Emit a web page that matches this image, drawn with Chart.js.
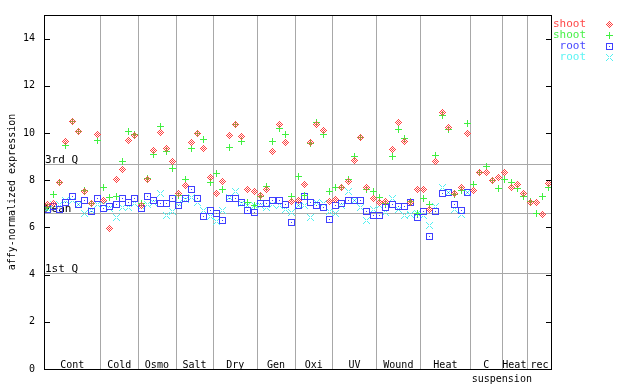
<!DOCTYPE html>
<html>
<head>
<meta charset="utf-8">
<script src="https://cdn.jsdelivr.net/npm/chart.js@4/dist/chart.umd.min.js"></script>
<style>
  html, body { margin: 0; padding: 0; background: #fff; }
</style>
</head>
<body>
<canvas id="chart" width="640" height="384"></canvas>
<script>
// groups along the x axis, and how many samples each one holds
const groups = ['Cont', 'Cold', 'Osmo', 'Salt', 'Dry', 'Gen', 'Oxi', 'UV', 'Wound', 'Heat', 'C', 'Heat', 'rec'];
const groupSizes = [9, 6, 6, 6, 7, 6, 6, 7, 7, 8, 5, 4, 4];
const subLabel = 'suspension';

// expression values per sample (null = no sample)
const shoot1 = [6.95, 7.02, 7.92, 9.66, 10.49, 10.07, 7.53, 7.02, 9.95,
  7.12, 5.97, 8.02, 8.47, 9.69, 9.90,
  6.93, 8.05, 9.27, 10.03, 9.36, 8.79,
  7.44, 7.78, 9.61, 9.97, 9.34, 8.13,
  7.44, 7.96, 9.89, 10.35, 9.86, 7.61, 7.53,
  7.36, 7.61, 9.21, 10.35, 9.61, 7.11,
  7.15, 7.82, 9.61, 10.35, 10.11, 7.11,
  7.19, 7.68, 7.95, 8.83, 9.82, 7.67, 7.23,
  7.05, 7.11, 9.30, 10.45, 9.63, 7.05, 7.62,
  7.62, 6.76, 8.80, 10.87, 10.23, 7.43, 7.71, 9.97,
  7.57, 8.32, 8.33, 7.97, 8.12,
  8.33, 7.67, 7.80, 7.43,
  7.04, 7.04, 6.56, 7.84];
const shoot2 = [6.85, 7.40, 7.92, 9.48, 10.47, 10.07, 7.55, 7.02, 9.68,
  7.67, 7.25, 7.33, 8.79, 10.07, 9.95,
  7.00, 8.09, 9.09, 10.28, 9.21, 8.51,
  7.36, 8.05, 9.34, 9.97, 9.72, 7.89,
  8.29, 7.61, 9.38, 10.35, 9.65, 7.05, 6.94,
  7.33, 7.75, 9.65, 10.21, 9.93, 7.33,
  8.16, 7.36, 9.55, 10.45, 9.93, 7.53,
  7.70, 7.70, 8.05, 9.00, 9.82, 7.62, 7.53,
  7.27, 7.00, 9.00, 10.14, 9.75, 7.10, 6.60,
  7.23, 6.97, 9.04, 10.73, 10.13, 7.40, 7.58, 10.39,
  7.82, 8.32, 8.58, 7.99, 7.63,
  8.05, 7.91, 7.66, 7.33,
  7.11, 6.57, 7.29, 7.67];
const root1 = [6.74, 6.88, 6.74, 7.07, 7.29, 6.95, 7.16, 6.67, 7.21,
  6.81, 6.88, 6.95, 7.23, 7.07, 7.23,
  6.81, 7.29, 7.15, 7.02, 7.02, 7.21,
  6.91, 7.21, 7.59, 7.21, 6.45, 6.73,
  6.60, 6.31, 7.23, 7.23, 7.05, 6.73, 6.65,
  7.02, 7.02, 7.12, 7.16, 6.98, 6.22,
  6.91, 7.29, 7.07, 6.94, 6.86, 6.35,
  6.91, 7.02, 7.13, 7.12, 7.13, 6.66, 6.49,
  6.52, 6.83, 6.99, 6.87, 6.87, 7.07, 6.42,
  6.69, 5.63, 6.69, 7.44, 7.49, 6.98, 6.73, 7.49,
  null, null, null, null, null,
  null, null, null, null,
  null, null, null, null];
const root2 = [6.80, 6.95, 6.95, 7.16, 7.16, 6.95, 6.60, 6.72, 6.95,
  6.95, 6.80, 6.41, 6.84, 6.84, 7.02,
  6.90, 6.98, 7.05, 7.44, 6.52, 6.69,
  7.00, 7.19, 7.25, 7.04, 6.73, 6.45,
  6.24, 6.73, 7.27, 7.53, 7.01, 6.91, 6.91,
  6.94, 6.83, 6.97, 6.91, 6.77, 6.63,
  6.91, 6.94, 6.44, 7.05, 7.02, 6.69,
  6.60, 6.91, 7.53, 7.12, 6.84, 6.31, 6.77,
  6.91, 6.63, 7.21, 6.77, 6.52, 6.55, 6.60,
  6.52, 6.10, 6.87, 7.70, 7.49, 6.77, 6.56, 7.49,
  null, null, null, null, null,
  null, null, null, null,
  null, null, null, null];

const yTicks = [0, 2, 4, 6, 8, 10, 12, 14];
const refNames = ['3rd Q', 'Mean', '1st Q'];
const refValues = [8.67, 6.63, 4.06];

const FONT = '"DejaVu Sans Mono", monospace';
const GRAY = '#a8a8a8';

// small pixel-art markers, 7x7, like the original bitmap plot
function marker(color, test) {
  const c = document.createElement('canvas');
  c.width = 7; c.height = 7;
  const g = c.getContext('2d');
  g.fillStyle = color;
  for (let py = 0; py < 7; py++) {
    for (let px = 0; px < 7; px++) {
      if (test(px - 3, py - 3)) g.fillRect(px, py, 1, 1);
    }
  }
  return c;
}
const diamond = marker('#ff4040', (dx, dy) => {
  const d = Math.abs(dx) + Math.abs(dy);
  return d === 3 || (d < 3 && (dx + dy) % 2 !== 0);
});
const plus = marker('#40f040', (dx, dy) => dx === 0 || dy === 0);
const square = marker('#4040ff', (dx, dy) => Math.max(Math.abs(dx), Math.abs(dy)) === 3 || (dx === 0 && dy === 0));
const cross = marker('#50f0f0', (dx, dy) => Math.abs(dx) === Math.abs(dy) && Math.abs(dx) >= 1);

const toPoints = arr => arr.map((v, i) => ({ x: i, y: v })).filter(p => p.y !== null);

const series = [
  { label: 'shoot', data: shoot1, color: '#ff4848', style: diamond },
  { label: 'shoot', data: shoot2, color: '#48f048', style: plus },
  { label: 'root', data: root1, color: '#4848ff', style: square },
  { label: 'root', data: root2, color: '#5cf4f4', style: cross }
];

// separators, quartile lines, box, group labels and legend
const decor = {
  id: 'decor',
  beforeDatasetsDraw(chart) {
    const { ctx, chartArea: a, scales: { x, y } } = chart;
    ctx.save();
    ctx.strokeStyle = GRAY;
    ctx.lineWidth = 1;
    let start = 0;
    groupSizes.slice(0, -1).forEach(n => {
      start += n;
      const px = Math.round(x.getPixelForValue(start - 0.5)) + 0.5;
      ctx.beginPath(); ctx.moveTo(px, a.top); ctx.lineTo(px, a.bottom); ctx.stroke();
    });
    ctx.font = '11px ' + FONT;
    ctx.fillStyle = '#000';
    ctx.textAlign = 'left';
    ctx.textBaseline = 'alphabetic';
    refValues.forEach((v, i) => {
      const py = Math.round(y.getPixelForValue(v)) + 0.5;
      ctx.beginPath(); ctx.moveTo(a.left, py); ctx.lineTo(a.right, py); ctx.stroke();
      ctx.fillText(refNames[i], a.left + 1, py - 1.5);
    });
    ctx.restore();
    // keep the bitmap markers crisp
    ctx.imageSmoothingEnabled = false;
  },
  afterDatasetsDraw(chart) {
    chart.ctx.imageSmoothingEnabled = true;
  },
  afterDraw(chart) {
    const { ctx, chartArea: a, scales: { x, y } } = chart;
    ctx.save();
    // frame and inward ticks
    ctx.strokeStyle = '#000';
    ctx.lineWidth = 1;
    ctx.strokeRect(Math.round(a.left) + 0.5, Math.round(a.top) + 0.5,
      Math.round(a.right - a.left) - 1, Math.round(a.bottom - a.top));
    yTicks.forEach(v => {
      const py = Math.round(y.getPixelForValue(v)) + 0.5;
      ctx.beginPath();
      ctx.moveTo(a.left, py); ctx.lineTo(a.left + 6, py);
      ctx.moveTo(a.right - 6, py); ctx.lineTo(a.right, py);
      ctx.stroke();
    });
    // group labels
    ctx.font = '10px ' + FONT;
    ctx.fillStyle = '#000';
    ctx.textAlign = 'center';
    ctx.textBaseline = 'alphabetic';
    let start = 0;
    groups.forEach((g, i) => {
      const mid = start + (groupSizes[i] - 1) / 2;
      ctx.fillText(g, x.getPixelForValue(mid), a.bottom - 1);
      start += groupSizes[i];
    });
    const cEnd = groupSizes.slice(0, 11).reduce((s, n) => s + n, 0);
    ctx.fillText(subLabel, x.getPixelForValue(cEnd - 0.5), a.bottom + 13);
    // legend
    ctx.font = '11px ' + FONT;
    ctx.textAlign = 'right';
    ctx.textBaseline = 'middle';
    ctx.imageSmoothingEnabled = false;
    series.forEach((s, i) => {
      const ly = 24 + i * 11;
      ctx.fillStyle = s.color;
      ctx.fillText(s.label, 586, ly);
      ctx.drawImage(s.style, 606, Math.round(ly) - 3);
    });
    ctx.restore();
  }
};

new Chart(document.getElementById('chart'), {
  type: 'scatter',
  data: {
    datasets: series.map(s => ({
      label: s.label,
      data: toPoints(s.data),
      pointStyle: s.style,
      pointRadius: 4,
      pointHoverRadius: 4,
      borderColor: s.color,
      backgroundColor: s.color
    }))
  },
  options: {
    responsive: false,
    animation: false,
    events: [],
    layout: { padding: { left: 0, top: 13, right: 88, bottom: 15 } },
    plugins: { legend: { display: false }, tooltip: { enabled: false } },
    scales: {
      x: { type: 'linear', min: -0.5, max: 80.5, display: false },
      y: {
        type: 'linear',
        min: 0,
        max: 15,
        afterBuildTicks: s => { s.ticks = yTicks.map(v => ({ value: v })); },
        afterFit: s => { s.width = 44; },
        grid: { display: false, drawTicks: false },
        border: { display: false },
        ticks: { color: '#000', padding: 9, font: { family: FONT, size: 10 } },
        title: {
          display: true,
          text: 'affy-normalized expression',
          color: '#000',
          padding: { top: 6, bottom: 0 },
          font: { family: FONT, size: 10 }
        }
      }
    }
  },
  plugins: [decor]
});
</script>
</body>
</html>
